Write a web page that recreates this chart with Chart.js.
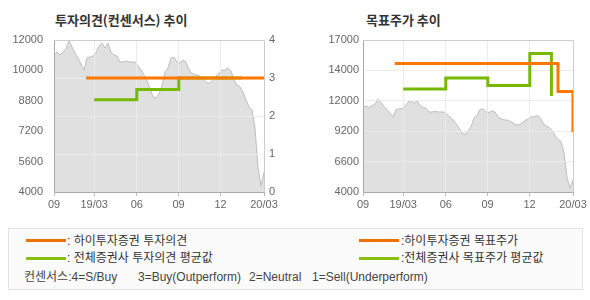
<!DOCTYPE html>
<html>
<head>
<meta charset="utf-8">
<script src="https://cdn.jsdelivr.net/npm/chart.js@4.4.1/dist/chart.umd.min.js"></script>
<style>
body { margin: 0; width: 590px; height: 300px; background: #fff; position: relative; overflow: hidden; font-family: "Noto Sans CJK KR", sans-serif; }
.title { position: absolute; top: 10px; font-size: 13px; font-weight: bold; color: #333; line-height: 20px; white-space: pre; }
.box { position: absolute; top: 0; width: 295px; height: 215px; }
.legend { position: absolute; left: 8px; top: 228px; width: 573px; height: 60px; border: 1px solid #e2e2e2; background: #fbfbfb; }
.item { position: absolute; font-family: "Liberation Sans", "Noto Sans CJK KR", sans-serif; font-size: 12px; color: #333; line-height: 14px; white-space: pre; }
.note { color: #444; }
.swatch { position: absolute; width: 40px; height: 3px; }
</style>
</head>
<body>

<div class="title" style="left:55px">투자의견(컨센서스) 추이</div>
<div class="title" style="left:366px">목표주가 추이</div>
<div class="box" style="left:0"><canvas id="opinion" width="295" height="215"></canvas></div>
<div class="box" style="left:295px"><canvas id="target" width="295" height="215"></canvas></div>

<div class="legend"></div>
<div class="swatch" style="left:26px;top:239px;background:#ee7000"></div>
<div class="item" style="left:67px;top:234px">: 하이투자증권 투자의견</div>
<div class="swatch" style="left:26px;top:257px;background:#88c010"></div>
<div class="item" style="left:67px;top:251px">: 전체증권사 투자의견 평균값</div>
<div class="swatch" style="left:359px;top:239px;background:#ee7000"></div>
<div class="item" style="left:401px;top:234px">:하이투자증권 목표주가</div>
<div class="swatch" style="left:359px;top:257px;background:#88c010"></div>
<div class="item" style="left:401px;top:251px">:전체증권사 목표주가 평균값</div>
<div class="item note" style="left:24px;top:270px">컨센서스:4=S/Buy</div>
<div class="item note" style="left:138px;top:270px">3=Buy(Outperform)</div>
<div class="item note" style="left:249px;top:270px">2=Neutral</div>
<div class="item note" style="left:312px;top:270px">1=Sell(Underperform)</div>

<script>
// x values count sample steps from the first price point
var xTickPos = [0, 13.4, 27.6, 41.5, 55.5, 70];
var xTickLabels = ['09', '19/03', '06', '09', '12', '20/03'];

// closing price, one value per step
var prices = [
    11210, 11370, 11210, 11370, 11530, 11950, 11630, 11320, 11050, 10740,
    10420, 11050, 11100, 11160, 11320, 11680, 11840, 11580, 11840, 11370,
    11210, 11160, 10840, 10840, 10900, 10840, 10840, 10840, 10630, 10420,
    10160, 9840, 9470, 9000, 8950, 9160, 9580, 10320, 10530, 11050,
    11100, 10840, 10790, 10950, 10840, 10420, 10260, 10160, 10160, 10050,
    9900, 9740, 9740, 9900, 10100, 10260, 10420, 10420, 10530, 10370,
    9900, 9630, 9530, 9260, 8840, 8470, 8320, 7370, 5260, 4320, 5050
];

// left chart: investment opinion
var opinionPriceTicks = [4000, 5600, 7200, 8800, 10400, 12000];
var opinionPriceLabels = ['4000', '5600', '7200', '8800', '10000', '12000'];
var opinionTicks = [0, 1, 2, 3, 4];
var hiOpinionX = [10.7, 70];
var hiOpinionY = [3, 3];
var avgOpinionX = [13.4, 27.6, 41.6, 62.8];
var avgOpinionY = [2.43, 2.7, 3, 3];

// right chart: target price
var targetTicks = [4000, 6600, 9200, 11800, 14400, 17000];
var targetLabels = ['4000', '6600', '9200', '12000', '14000', '17000'];
var hiTargetX = [10.6, 65, 70];
var hiTargetY = [15000, 12600, 9100];
var avgTargetX = [13.4, 27.6, 41.6, 55.6, 62.8];
var avgTargetY = [12800, 13750, 13100, 15850, 12200];

var ORANGE = '#ff7700';
var GREEN = '#77b800';
var GRID = '#ebebeb';
var TICKFONT = { family: '"Liberation Sans", Arial, sans-serif', size: 11 };

var toPoints = function(xs, ys) {
    return xs.map(function(x, i) { return { x: x, y: ys[i] }; });
};

var setTicks = function(values) {
    return function(scale) {
        scale.ticks = values.map(function(v) { return { value: v }; });
    };
};

// grey price area sits under the grid, the step lines above it
var gridOverArea = {
    id: 'gridOverArea',
    afterDatasetDraw: function(chart, args, opts) {
        if (args.index !== 0) return;
        opts.scales.forEach(function(id) {
            chart.scales[id].drawGrid(chart.chartArea);
        });
    },
    afterDraw: function(chart) {
        var a = chart.chartArea;
        var ctx = chart.ctx;
        ctx.save();
        ctx.lineWidth = 1;
        ctx.strokeStyle = '#cccccc';
        ctx.beginPath();
        ctx.moveTo(Math.round(a.left) + 0.5, Math.round(a.top) + 0.5);
        ctx.lineTo(Math.round(a.right) + 0.5, Math.round(a.top) + 0.5);
        ctx.lineTo(Math.round(a.right) + 0.5, Math.round(a.bottom) + 0.5);
        ctx.stroke();
        ctx.strokeStyle = '#aaaaaa';
        ctx.beginPath();
        ctx.moveTo(Math.round(a.left) + 0.5, Math.round(a.top) + 0.5);
        ctx.lineTo(Math.round(a.left) + 0.5, Math.round(a.bottom) + 0.5);
        ctx.lineTo(Math.round(a.right) + 0.5, Math.round(a.bottom) + 0.5);
        ctx.stroke();
        ctx.restore();
    }
};

var priceDataset = function(axis) {
    return {
        data: toPoints(prices.map(function(p, i) { return i; }), prices),
        yAxisID: axis,
        borderColor: '#bdbdbd',
        borderWidth: 1,
        backgroundColor: '#e0e0e0',
        fill: 'start',
        pointRadius: 0,
        tension: 0,
        order: 2
    };
};

var stepDataset = function(xs, ys, color, axis, order) {
    return {
        data: toPoints(xs, ys),
        yAxisID: axis,
        borderColor: color,
        borderWidth: 3,
        fill: false,
        pointRadius: 0,
        stepped: true,
        order: order
    };
};

var xScale = function() {
    return {
        type: 'linear',
        min: 0,
        max: 70,
        afterBuildTicks: setTicks(xTickPos),
        afterFit: function(scale) { scale.height = 23; },
        border: { display: false },
        grid: { color: GRID, tickColor: '#bbbbbb', tickLength: 4 },
        ticks: {
            autoSkip: false,
            maxRotation: 0,
            padding: 2,
            color: '#666',
            font: TICKFONT,
            callback: function(v, i) { return xTickLabels[i]; }
        }
    };
};

Chart.register(gridOverArea);

new Chart(document.getElementById('opinion'), {
    type: 'line',
    data: {
        datasets: [
            priceDataset('y'),
            stepDataset(avgOpinionX, avgOpinionY, GREEN, 'y1', 1),
            stepDataset(hiOpinionX, hiOpinionY, ORANGE, 'y1', 0)
        ]
    },
    options: {
        responsive: false,
        animation: false,
        devicePixelRatio: 1,
        layout: { padding: { top: 40, left: 0, right: 0, bottom: 0 } },
        plugins: {
            legend: { display: false },
            tooltip: { enabled: false },
            gridOverArea: { scales: ['x', 'y1'] }
        },
        scales: {
            x: xScale(),
            y: {
                position: 'left',
                min: 4000,
                max: 12000,
                afterBuildTicks: setTicks(opinionPriceTicks),
                afterFit: function(scale) { scale.width = 54; },
                border: { display: false },
                grid: { display: false },
                ticks: {
                    padding: 3,
                    color: '#666',
                    font: TICKFONT,
                    callback: function(v, i) { return opinionPriceLabels[i]; }
                }
            },
            y1: {
                position: 'right',
                min: 0,
                max: 4,
                afterBuildTicks: setTicks(opinionTicks),
                afterFit: function(scale) { scale.width = 31; },
                border: { display: false },
                grid: { color: GRID, drawTicks: false },
                ticks: { padding: 5, color: '#666', font: TICKFONT }
            }
        }
    }
});

new Chart(document.getElementById('target'), {
    type: 'line',
    data: {
        datasets: [
            priceDataset('y'),
            stepDataset(avgTargetX, avgTargetY, GREEN, 'y', 1),
            stepDataset(hiTargetX, hiTargetY, ORANGE, 'y', 0)
        ]
    },
    options: {
        responsive: false,
        animation: false,
        devicePixelRatio: 1,
        layout: { padding: { top: 40, left: 0, right: 17, bottom: 0 } },
        plugins: {
            legend: { display: false },
            tooltip: { enabled: false },
            gridOverArea: { scales: ['x', 'y'] }
        },
        scales: {
            x: xScale(),
            y: {
                position: 'left',
                min: 4000,
                max: 17000,
                afterBuildTicks: setTicks(targetTicks),
                afterFit: function(scale) { scale.width = 68; },
                border: { display: false },
                grid: { color: GRID, drawTicks: false },
                ticks: {
                    padding: 4,
                    color: '#666',
                    font: TICKFONT,
                    callback: function(v, i) { return targetLabels[i]; }
                }
            }
        }
    }
});
</script>
</body>
</html>
